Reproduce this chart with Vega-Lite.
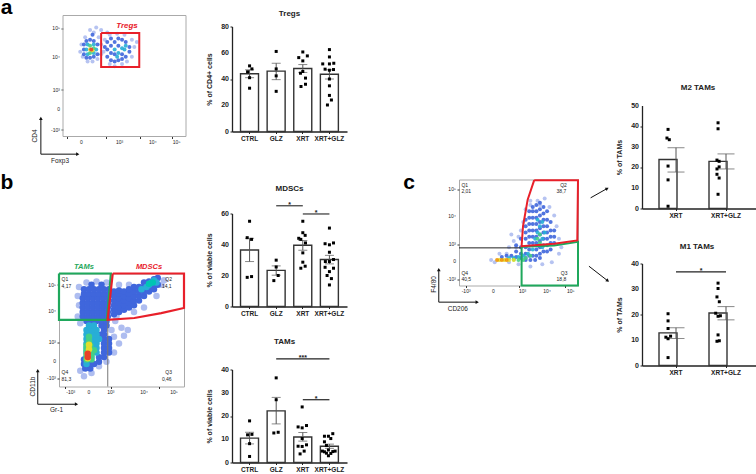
{
"$schema":"https://vega.github.io/schema/vega-lite/v6.json",
"padding":{"left":0,"top":-3.5,"right":0,"bottom":0},
"background":"white",
"config":{"font":"Liberation Sans","view":{"stroke":null},"axis":{"grid":false,"labelColor":"#222","titleColor":"#222","labelBound":false,"labelFlush":false},"title":{"color":"#222"}},
"spacing":0,
"hconcat":[
{"bounds":"flush","spacing":0,"vconcat":[
  {"width":10,"height":16,"data":{"values":[{}]},"mark":{"type":"text","text":""},"encoding":{}},
  {"width":127,"height":121,"layer":[
   {"data":{"values":[{"x":14,"y":70,"d":0},{"x":15,"y":76,"d":0},{"x":16,"y":66,"d":0},{"x":18,"y":82,"d":0},{"x":20,"y":62,"d":0},{"x":24,"y":62,"d":0},{"x":28,"y":64,"d":0},{"x":31,"y":68,"d":0},{"x":31,"y":76,"d":0},{"x":29,"y":82,"d":0},{"x":25,"y":86,"d":0},{"x":22,"y":88,"d":0},{"x":27,"y":90,"d":0},{"x":31,"y":88,"d":0},{"x":36,"y":86,"d":0},{"x":34,"y":80,"d":0},{"x":33,"y":70,"d":0},{"x":38,"y":60,"d":0},{"x":42,"y":58,"d":0},{"x":48,"y":60,"d":0},{"x":52,"y":62,"d":0},{"x":56,"y":66,"d":0},{"x":58,"y":74,"d":0},{"x":56,"y":80,"d":0},{"x":50,"y":84,"d":0},{"x":44,"y":85,"d":0},{"x":38,"y":84,"d":0},{"x":60,"y":78,"d":0},
   {"x":17,"y":68,"d":1},{"x":17,"y":72,"d":1},{"x":17,"y":76,"d":1},{"x":19,"y":65,"d":1},{"x":19,"y":79,"d":1},{"x":22,"y":65,"d":1},{"x":22,"y":80,"d":1},{"x":25,"y":66,"d":1},{"x":25,"y":79,"d":1},{"x":28,"y":68,"d":1},{"x":28,"y":76,"d":1},{"x":24,"y":84,"d":1},{"x":36,"y":66,"d":1},{"x":36,"y":72,"d":1},{"x":36,"y":78,"d":1},{"x":39,"y":63,"d":1},{"x":39,"y":69,"d":1},{"x":39,"y":75,"d":1},{"x":39,"y":81,"d":1},{"x":42,"y":62,"d":1},{"x":42,"y":68,"d":1},{"x":42,"y":78,"d":1},{"x":45,"y":63,"d":1},{"x":45,"y":75,"d":1},{"x":45,"y":81,"d":1},{"x":48,"y":64,"d":1},{"x":48,"y":68,"d":1},{"x":51,"y":66,"d":1},{"x":51,"y":78,"d":1},{"x":54,"y":70,"d":1},{"x":54,"y":74,"d":1},{"x":48,"y":80,"d":1},{"x":34,"y":74,"d":1},
   {"x":19,"y":72,"d":2},{"x":20,"y":68,"d":2},{"x":20,"y":76,"d":2},{"x":27,"y":72,"d":2},{"x":25,"y":69,"d":2},{"x":25,"y":76,"d":2},{"x":42,"y":72,"d":2},{"x":45,"y":69,"d":2},{"x":48,"y":73,"d":2},{"x":50,"y":72,"d":2},{"x":51,"y":75,"d":2},{"x":44,"y":66,"d":2},
   {"x":22,"y":69,"d":3},{"x":22,"y":75,"d":3},{"x":25,"y":73,"d":3},{"x":22,"y":72,"d":4},{"x":24,"y":71,"d":4},{"x":23,"y":72,"d":5}]},
    "mark":{"type":"circle","size":16,"opacity":0.9},
    "encoding":{"x":{"field":"x","type":"quantitative","scale":{"domain":[0,100],"nice":false,"range":[4,127]},"axis":{"labels":false,"title":null,"domain":false,"values":[3,6,9,15,18,21,24,30,35,40,43,46,48,52,55,59,63,66,69,73,77,80,83,86,89,92.4,96],"tickSize":2,"tickColor":"#333"}},
    "y":{"field":"y","type":"quantitative","scale":{"domain":[0,100],"nice":false},"axis":{"labels":false,"title":null,"domain":false,"offset":-4,"values":[5.5,22.4,38.7,65.7,89.5],"tickSize":2,"tickColor":"#333"}},
    "color":{"field":"d","type":"quantitative","legend":null,"scale":{"domain":[0,1,2,3,4,5],"range":["#aebdf0","#3f66dc","#28aed6","#45cf86","#e3dd2c","#e8402a"]}}}},
   {"data":{"values":[{"pos":5.5,"label":"-10³"},{"pos":22.4,"label":"0"},{"pos":38.7,"label":"10³"},{"pos":65.7,"label":"10⁴"},{"pos":89.5,"label":"10⁵"}]},"mark":{"type":"text","fontSize":5,"align":"right","dx":-3,"color":"#222"},"encoding":{"x":{"value":4},"y":{"field":"pos","type":"quantitative"},"text":{"field":"label"}}},
   {"data":{"values":[{"pos":15,"label":"0"},{"pos":46,"label":"10³"},{"pos":73,"label":"10⁴"},{"pos":92.4,"label":"10⁵"}]},"mark":{"type":"text","fontSize":5,"baseline":"top","dy":3,"color":"#222"},"encoding":{"x":{"field":"pos","type":"quantitative"},"y":{"value":121},"text":{"field":"label"}}},
   {"data":{"values":[{"x":0,"y":0,"i":1},{"x":100,"y":0,"i":2},{"x":100,"y":100,"i":3},{"x":0,"y":100,"i":4},{"x":0,"y":0,"i":5}]},"mark":{"type":"line","color":"#aaa","strokeWidth":1},"encoding":{"x":{"field":"x","type":"quantitative"},"y":{"field":"y","type":"quantitative"},"order":{"field":"i"}}},
   {"data":{"values":[{"x":31,"y":85.6,"i":1},{"x":62,"y":85.6,"i":2},{"x":62,"y":57.5,"i":3},{"x":31,"y":57.5,"i":4},{"x":31,"y":85.6,"i":5}]},"mark":{"type":"line","color":"#e8202a","strokeWidth":2},"encoding":{"x":{"field":"x","type":"quantitative"},"y":{"field":"y","type":"quantitative"},"order":{"field":"i"}}},
   {"data":{"values":[{"x":-18,"y":15,"i":1},{"x":-18,"y":-14.6,"i":2},{"x":12,"y":-14.6,"i":3}]},"mark":{"type":"line","color":"#111","strokeWidth":1},"encoding":{"x":{"field":"x","type":"quantitative"},"y":{"field":"y","type":"quantitative"},"order":{"field":"i"}}},
   {"data":{"values":[{"x":-18,"y":15,"heading":0},{"x":12,"y":-14.6,"heading":90}]},"mark":{"type":"point","shape":"triangle-up","filled":true,"size":14,"color":"#111","opacity":1},"encoding":{"x":{"field":"x","type":"quantitative"},"y":{"field":"y","type":"quantitative"},"angle":{"field":"heading","type":"quantitative","scale":{"domain":[0,360],"range":[0,360]},"legend":null}}},
   {"data":{"values":[{"x":-45.8,"y":106.4,"t":"a"}]},"mark":{"type":"text","fontSize":21,"fontWeight":"bold","color":"#000"},"encoding":{"x":{"field":"x","type":"quantitative"},"y":{"field":"y","type":"quantitative"},"text":{"field":"t"}}},
   {"data":{"values":[{"x":52,"y":91,"t":"Tregs"}]},"mark":{"type":"text","fontSize":8,"fontWeight":"bold","fontStyle":"italic","color":"#e8202a"},"encoding":{"x":{"field":"x","type":"quantitative"},"y":{"field":"y","type":"quantitative"},"text":{"field":"t"}}},
   {"data":{"values":[{"x":-2.4,"y":-20,"t":"Foxp3"}]},"mark":{"type":"text","fontSize":6.5,"color":"#222"},"encoding":{"x":{"field":"x","type":"quantitative"},"y":{"field":"y","type":"quantitative"},"text":{"field":"t"}}},
   {"data":{"values":[{"x":-23,"y":0.5,"t":"CD4"}]},"mark":{"type":"text","fontSize":6.5,"angle":270,"color":"#222"},"encoding":{"x":{"field":"x","type":"quantitative"},"y":{"field":"y","type":"quantitative"},"text":{"field":"t"}}}
  ]},
 {"width":10,"height":137,"data":{"values":[{}]},"mark":{"type":"text","text":""},"encoding":{}},
 {"width":125,"height":113,"view":{"stroke":"#aaa"},"layer":[
   {"data":{"values":[{"x":17,"y":14,"d":0},{"x":20,"y":9,"d":0},{"x":26,"y":12,"d":0},{"x":32,"y":18,"d":0},{"x":38,"y":22,"d":0},{"x":44,"y":30,"d":0},{"x":48,"y":38,"d":0},{"x":52,"y":45,"d":0},{"x":55,"y":50,"d":0},{"x":44,"y":44,"d":0},{"x":50,"y":52,"d":0},{"x":17,"y":56,"d":0},{"x":15,"y":62,"d":0},{"x":16,"y":72,"d":0},{"x":15,"y":80,"d":0},{"x":16,"y":88,"d":0},{"x":45,"y":58,"d":0},{"x":42,"y":50,"d":0},{"x":46,"y":62,"d":0},{"x":84,"y":94,"d":0},{"x":82,"y":90,"d":0},{"x":60,"y":66,"d":0},{"x":68,"y":70,"d":0},{"x":78,"y":80,"d":0},{"x":22,"y":92,"d":0},{"x":30,"y":93,"d":0},{"x":38,"y":92,"d":0},{"x":48,"y":90,"d":0},{"x":56,"y":90,"d":0},
   {"x":21,"y":16,"d":1},{"x":25,"y":16,"d":1},{"x":20,"y":20,"d":1},{"x":24,"y":20,"d":1},{"x":28,"y":20,"d":1},{"x":32,"y":22,"d":1},{"x":20,"y":24,"d":1},{"x":36,"y":26,"d":1},{"x":32,"y":26,"d":1},{"x":36,"y":30,"d":1},{"x":40,"y":30,"d":1},{"x":36,"y":34,"d":1},{"x":40,"y":34,"d":1},{"x":36,"y":38,"d":1},{"x":40,"y":38,"d":1},{"x":36,"y":42,"d":1},{"x":40,"y":42,"d":1},{"x":36,"y":46,"d":1},{"x":34,"y":46,"d":1},{"x":36,"y":50,"d":1},{"x":34,"y":54,"d":1},{"x":38,"y":54,"d":1},{"x":22,"y":58,"d":1},{"x":26,"y":58,"d":1},{"x":30,"y":58,"d":1},{"x":34,"y":58,"d":1},{"x":38,"y":58,"d":1},
   {"x":19,"y":62,"d":1},{"x":23,"y":62,"d":1},{"x":27,"y":62,"d":1},{"x":31,"y":62,"d":1},{"x":35,"y":62,"d":1},{"x":39,"y":62,"d":1},{"x":19,"y":66,"d":1},{"x":23,"y":66,"d":1},{"x":27,"y":66,"d":1},{"x":31,"y":66,"d":1},{"x":35,"y":66,"d":1},{"x":39,"y":66,"d":1},{"x":19,"y":70,"d":1},{"x":23,"y":70,"d":1},{"x":27,"y":70,"d":1},{"x":31,"y":70,"d":1},{"x":35,"y":70,"d":1},{"x":39,"y":70,"d":1},{"x":19,"y":74,"d":1},{"x":23,"y":74,"d":1},{"x":27,"y":74,"d":1},{"x":31,"y":74,"d":1},{"x":35,"y":74,"d":1},{"x":39,"y":74,"d":1},{"x":19,"y":78,"d":1},{"x":23,"y":78,"d":1},{"x":27,"y":78,"d":1},{"x":31,"y":78,"d":1},{"x":35,"y":78,"d":1},{"x":39,"y":78,"d":1},{"x":20,"y":82,"d":1},{"x":24,"y":82,"d":1},{"x":28,"y":82,"d":1},{"x":32,"y":82,"d":1},{"x":36,"y":82,"d":1},{"x":40,"y":82,"d":1},{"x":20,"y":86,"d":1},{"x":24,"y":86,"d":1},{"x":28,"y":86,"d":1},{"x":32,"y":86,"d":1},{"x":36,"y":86,"d":1},{"x":40,"y":86,"d":1},{"x":26,"y":90,"d":1},{"x":34,"y":90,"d":1},
   {"x":44,"y":64,"d":1},{"x":44,"y":68,"d":1},{"x":44,"y":72,"d":1},{"x":44,"y":76,"d":1},{"x":44,"y":80,"d":1},{"x":44,"y":84,"d":1},{"x":48,"y":66,"d":1},{"x":48,"y":70,"d":1},{"x":48,"y":74,"d":1},{"x":48,"y":78,"d":1},{"x":48,"y":82,"d":1},{"x":48,"y":85,"d":1},{"x":52,"y":68,"d":1},{"x":52,"y":72,"d":1},{"x":52,"y":76,"d":1},{"x":52,"y":80,"d":1},{"x":52,"y":84,"d":1},{"x":56,"y":70,"d":1},{"x":56,"y":74,"d":1},{"x":56,"y":78,"d":1},{"x":56,"y":82,"d":1},{"x":56,"y":86,"d":1},{"x":60,"y":72,"d":1},{"x":60,"y":76,"d":1},{"x":60,"y":80,"d":1},{"x":60,"y":84,"d":1},{"x":60,"y":88,"d":1},{"x":64,"y":76,"d":1},{"x":64,"y":80,"d":1},{"x":64,"y":84,"d":1},{"x":64,"y":88,"d":1},{"x":68,"y":80,"d":1},{"x":68,"y":84,"d":1},{"x":68,"y":88,"d":1},{"x":68,"y":92,"d":1},{"x":72,"y":84,"d":1},{"x":72,"y":88,"d":1},{"x":72,"y":93,"d":1},{"x":76,"y":86,"d":1},{"x":76,"y":90,"d":1},{"x":76,"y":95,"d":1},{"x":79,"y":90,"d":1},{"x":79,"y":96,"d":1},
   {"x":22,"y":26,"d":2},{"x":26,"y":26,"d":2},{"x":30,"y":30,"d":2},{"x":22,"y":30,"d":2},{"x":26,"y":30,"d":2},{"x":30,"y":34,"d":2},{"x":22,"y":34,"d":2},{"x":26,"y":34,"d":2},{"x":30,"y":38,"d":2},{"x":32,"y":42,"d":2},{"x":22,"y":38,"d":2},{"x":26,"y":38,"d":2},{"x":22,"y":42,"d":2},{"x":26,"y":42,"d":2},{"x":30,"y":42,"d":2},{"x":22,"y":46,"d":2},{"x":26,"y":46,"d":2},{"x":30,"y":46,"d":2},{"x":22,"y":50,"d":2},{"x":26,"y":50,"d":2},{"x":30,"y":50,"d":2},{"x":24,"y":54,"d":2},{"x":28,"y":54,"d":2},{"x":22,"y":20,"d":2},{"x":66,"y":86,"d":2},{"x":70,"y":88,"d":2},{"x":72,"y":90,"d":2},{"x":74,"y":92,"d":2},{"x":78,"y":92,"d":2},{"x":76,"y":94,"d":2},
   {"x":72,"y":91,"d":2.6},{"x":75,"y":92,"d":2.6},{"x":22,"y":24,"d":3},{"x":26,"y":24,"d":3},{"x":22,"y":28,"d":3},{"x":26,"y":28,"d":3},{"x":28,"y":32,"d":3},{"x":22,"y":32,"d":3},{"x":25,"y":32,"d":3},{"x":22,"y":36,"d":3},{"x":25,"y":36,"d":3},{"x":24,"y":40,"d":3},{"x":24,"y":44,"d":3},
   {"x":23,"y":25,"d":4},{"x":23,"y":29,"d":4},{"x":24,"y":33,"d":4},{"x":24,"y":37,"d":4},{"x":23,"y":26,"d":5},{"x":23,"y":29,"d":5}]},
    "mark":{"type":"circle","size":42,"opacity":1},
    "encoding":{"x":{"field":"x","type":"quantitative","scale":{"domain":[0,100],"nice":false},"axis":{"labels":false,"title":null,"domain":false,"values":[5,9.4,14,20,24,28,32,36,41.5,48,53,58,62,65,68,74,80,84,88,92,96],"tickSize":2,"tickColor":"#333"}},
    "y":{"field":"y","type":"quantitative","scale":{"domain":[0,100],"nice":false},"axis":{"labels":false,"title":null,"domain":false,"values":[7.4,23,39,66.6,90],"tickSize":2,"tickColor":"#333"}},
    "color":{"field":"d","type":"quantitative","legend":null,"scale":{"domain":[0,1,2,3,4,5],"range":["#b7c6f2","#3a62dc","#28aed6","#45cf86","#e3dd2c","#e8301f"]}}}},
   {"data":{"values":[{"pos":7.4,"label":"-10³"},{"pos":23,"label":"0"},{"pos":39,"label":"10³"},{"pos":66.6,"label":"10⁴"},{"pos":90,"label":"10⁵"}]},"mark":{"type":"text","fontSize":5,"align":"right","dx":-3,"color":"#222"},"encoding":{"x":{"value":0},"y":{"field":"pos","type":"quantitative"},"text":{"field":"label"}}},
   {"data":{"values":[{"pos":9.4,"label":"-10³"},{"pos":24,"label":"0"},{"pos":41.5,"label":"10³"},{"pos":68,"label":"10⁴"},{"pos":92,"label":"10⁵"}]},"mark":{"type":"text","fontSize":5,"baseline":"top","dy":3,"color":"#222"},"encoding":{"x":{"field":"pos","type":"quantitative"},"y":{"value":113},"text":{"field":"label"}}},
   {"data":{"values":[{"x":39,"y":59,"i":1},{"x":39,"y":0,"i":2}]},"mark":{"type":"line","color":"#777","strokeWidth":1},"encoding":{"x":{"field":"x","type":"quantitative"},"y":{"field":"y","type":"quantitative"},"order":{"field":"i"}}},
   {"data":{"values":[{"x":0,"y":100,"i":1},{"x":41.5,"y":100,"i":2},{"x":38.3,"y":59,"i":3},{"x":0,"y":59,"i":4},{"x":0,"y":100,"i":5}]},"mark":{"type":"line","color":"#1fa85c","strokeWidth":2.2},"encoding":{"x":{"field":"x","type":"quantitative"},"y":{"field":"y","type":"quantitative"},"order":{"field":"i"}}},
   {"data":{"values":[{"x":43,"y":100,"i":1},{"x":100,"y":100,"i":2},{"x":100,"y":69.5,"i":3},{"x":81.8,"y":65,"i":4},{"x":60.3,"y":60.6,"i":5},{"x":38.9,"y":59,"i":6},{"x":43,"y":100,"i":7}]},"mark":{"type":"line","color":"#e8202a","strokeWidth":2.2},"encoding":{"x":{"field":"x","type":"quantitative"},"y":{"field":"y","type":"quantitative"},"order":{"field":"i"}}},
   {"data":{"values":[{"x":-17,"y":14,"i":1},{"x":-17,"y":-15.7,"i":2},{"x":14,"y":-15.7,"i":3}]},"mark":{"type":"line","color":"#111","strokeWidth":1},"encoding":{"x":{"field":"x","type":"quantitative"},"y":{"field":"y","type":"quantitative"},"order":{"field":"i"}}},
   {"data":{"values":[{"x":-17,"y":14,"heading":0},{"x":14,"y":-15.7,"heading":90}]},"mark":{"type":"point","shape":"triangle-up","filled":true,"size":14,"color":"#111","opacity":1},"encoding":{"x":{"field":"x","type":"quantitative"},"y":{"field":"y","type":"quantitative"},"angle":{"field":"heading","type":"quantitative","scale":{"domain":[0,360],"range":[0,360]},"legend":null}}},
   {"data":{"values":[{"x":-41.6,"y":180.5,"t":"b"}]},"mark":{"type":"text","fontSize":21,"fontWeight":"bold","color":"#000"},"encoding":{"x":{"field":"x","type":"quantitative"},"y":{"field":"y","type":"quantitative"},"text":{"field":"t"}}},
   {"data":{"values":[{"x":20,"y":105.6,"t":"TAMs"}]},"mark":{"type":"text","fontSize":7.5,"fontWeight":"bold","fontStyle":"italic","color":"#1fa85c"},"encoding":{"x":{"field":"x","type":"quantitative"},"y":{"field":"y","type":"quantitative"},"text":{"field":"t"}}},
   {"data":{"values":[{"x":72,"y":105.6,"t":"MDSCs"}]},"mark":{"type":"text","fontSize":7.5,"fontWeight":"bold","fontStyle":"italic","color":"#e8202a"},"encoding":{"x":{"field":"x","type":"quantitative"},"y":{"field":"y","type":"quantitative"},"text":{"field":"t"}}},
   {"data":{"values":[{"x":2,"y":94.7,"t":"Q1"},{"x":2,"y":88.8,"t":"4,17"},{"x":85,"y":94.7,"t":"Q2"},{"x":82.3,"y":88.8,"t":"14,1"},{"x":2,"y":12.4,"t":"Q4"},{"x":2,"y":6.5,"t":"81,3"},{"x":85,"y":12.4,"t":"Q3"},{"x":82.3,"y":6.5,"t":"0,46"}]},"mark":{"type":"text","fontSize":5,"align":"left","color":"#222"},"encoding":{"x":{"field":"x","type":"quantitative"},"y":{"field":"y","type":"quantitative"},"text":{"field":"t"}}},
   {"data":{"values":[{"x":-2,"y":-20.7,"t":"Gr-1"}]},"mark":{"type":"text","fontSize":6.5,"color":"#222"},"encoding":{"x":{"field":"x","type":"quantitative"},"y":{"field":"y","type":"quantitative"},"text":{"field":"t"}}},
   {"data":{"values":[{"x":-21,"y":0,"t":"CD11b"}]},"mark":{"type":"text","fontSize":6.5,"angle":270,"color":"#222"},"encoding":{"x":{"field":"x","type":"quantitative"},"y":{"field":"y","type":"quantitative"},"text":{"field":"t"}}}
 ]}
]},
{"width":16,"height":10,"data":{"values":[{}]},"mark":{"type":"text","text":""},"encoding":{}},
{"bounds":"flush","spacing":0,"vconcat":[
 {"width":10,"height":27,"data":{"values":[{}]},"mark":{"type":"text","text":""},"encoding":{}},
 {"width":115,"height":105,"title":{"text":"Tregs","fontSize":8,"fontWeight":"bold","offset":5},
  "encoding":{"x":{"field":"group","type":"nominal","scale":{"domain":["CTRL","GLZ","XRT","XRT+GLZ"],"paddingInner":0.32,"paddingOuter":0.32},"axis":{"labelOverlap":false,"title":null,"labelAngle":0,"labelFontSize":6.5,"labelFontWeight":"bold","domainWidth":1.3,"domainColor":"#222","tickColor":"#222","tickSize":2,"labelPadding":2}}},
  "layer":[
   {"data":{"values":[{"group":"CTRL","mean":44,"lo":41,"hi":47},{"group":"GLZ","mean":46,"lo":39.5,"hi":52},{"group":"XRT","mean":48,"lo":45,"hi":51},{"group":"XRT+GLZ","mean":43.6,"lo":40,"hi":47}]},"layer":[
    {"mark":{"type":"bar","fill":"white","stroke":"#333","strokeWidth":1.4,"width":{"band":1}},"encoding":{"y":{"field":"mean","type":"quantitative","scale":{"domain":[0,80]},"axis":{"labels":false,"values":[0,20,40,60,80],"title":"% of CD4+ cells","titleFontSize":7,"titleFontWeight":"bold","domainWidth":1.3,"domainColor":"#222","tickColor":"#222","tickSize":2,"titlePadding":17}}}},
    {"mark":{"type":"rule","color":"#555"},"encoding":{"y":{"field":"lo","type":"quantitative"},"y2":{"field":"hi"}}},
    {"mark":{"type":"tick","color":"#555","size":9,"thickness":1},"encoding":{"y":{"field":"lo","type":"quantitative"}}},
    {"mark":{"type":"tick","color":"#555","size":9,"thickness":1},"encoding":{"y":{"field":"hi","type":"quantitative"}}}
   ]},
   {"data":{"values":[{"pos":0},{"pos":20},{"pos":40},{"pos":60},{"pos":80}]},"mark":{"type":"text","fontSize":7,"fontWeight":"bold","align":"right","dx":-3,"color":"#222"},"encoding":{"x":{"value":0},"y":{"field":"pos","type":"quantitative"},"text":{"field":"pos"}}},
   {"data":{"values":[{"group":"CTRL","v":50,"j":0},{"group":"CTRL","v":47.7,"j":0.26},{"group":"CTRL","v":45.5,"j":-0.22},{"group":"CTRL","v":41,"j":0},{"group":"CTRL","v":33,"j":0},{"group":"GLZ","v":61,"j":0},{"group":"GLZ","v":47.7,"j":0},{"group":"GLZ","v":42.4,"j":0},{"group":"GLZ","v":30.6,"j":0},{"group":"XRT","v":60.6,"j":0},{"group":"XRT","v":57.6,"j":0.5},{"group":"XRT","v":56.3,"j":-0.45},{"group":"XRT","v":53.8,"j":0},{"group":"XRT","v":45.7,"j":0},{"group":"XRT","v":44.4,"j":-0.26},{"group":"XRT","v":40.7,"j":0.3},{"group":"XRT","v":36,"j":0.3},{"group":"XRT","v":34.3,"j":-0.2},{"group":"XRT+GLZ","v":62.4,"j":0},{"group":"XRT+GLZ","v":56.8,"j":0},{"group":"XRT+GLZ","v":51.5,"j":-0.74},{"group":"XRT+GLZ","v":51.5,"j":0},{"group":"XRT+GLZ","v":52,"j":0.48},{"group":"XRT+GLZ","v":47.5,"j":-0.48},{"group":"XRT+GLZ","v":46.7,"j":0},{"group":"XRT+GLZ","v":47.2,"j":0.45},{"group":"XRT+GLZ","v":40,"j":0},{"group":"XRT+GLZ","v":34.8,"j":0},{"group":"XRT+GLZ","v":27.5,"j":0},{"group":"XRT+GLZ","v":24,"j":0.22},{"group":"XRT+GLZ","v":20.2,"j":-0.22}]},
    "mark":{"type":"point","shape":"square","filled":true,"size":9,"color":"#000","opacity":1},
    "encoding":{"y":{"field":"v","type":"quantitative"},"xOffset":{"field":"j","type":"quantitative","scale":{"domain":[-1,1]}}}}
  ]},
 {"width":10,"height":82,"data":{"values":[{}]},"mark":{"type":"text","text":""},"encoding":{}},
 {"width":115,"height":93,"title":{"text":"MDSCs","fontSize":8,"fontWeight":"bold","offset":8},
  "encoding":{"x":{"field":"group","type":"nominal","scale":{"domain":["CTRL","GLZ","XRT","XRT+GLZ"],"paddingInner":0.32,"paddingOuter":0.32},"axis":{"labelOverlap":false,"title":null,"labelAngle":0,"labelFontSize":6.5,"labelFontWeight":"bold","domainWidth":1.3,"domainColor":"#222","tickColor":"#222","tickSize":2,"labelPadding":2}}},
  "layer":[
   {"data":{"values":[{"group":"CTRL","mean":36.5,"lo":29,"hi":44},{"group":"GLZ","mean":23.3,"lo":20.2,"hi":26.2},{"group":"XRT","mean":39.5,"lo":36.3,"hi":42.6},{"group":"XRT+GLZ","mean":30.3,"lo":27.5,"hi":33}]},"layer":[
    {"mark":{"type":"bar","fill":"white","stroke":"#333","strokeWidth":1.4,"width":{"band":1}},"encoding":{"y":{"field":"mean","type":"quantitative","scale":{"domain":[0,60]},"axis":{"labels":false,"values":[0,20,40,60],"title":"% of viable cells","titleFontSize":7,"titleFontWeight":"bold","domainWidth":1.3,"domainColor":"#222","tickColor":"#222","tickSize":2,"titlePadding":17}}}},
    {"mark":{"type":"rule","color":"#555"},"encoding":{"y":{"field":"lo","type":"quantitative"},"y2":{"field":"hi"}}},
    {"mark":{"type":"tick","color":"#555","size":9,"thickness":1},"encoding":{"y":{"field":"lo","type":"quantitative"}}},
    {"mark":{"type":"tick","color":"#555","size":9,"thickness":1},"encoding":{"y":{"field":"hi","type":"quantitative"}}}
   ]},
   {"data":{"values":[{"pos":0},{"pos":20},{"pos":40},{"pos":60}]},"mark":{"type":"text","fontSize":7,"fontWeight":"bold","align":"right","dx":-3,"color":"#222"},"encoding":{"x":{"value":0},"y":{"field":"pos","type":"quantitative"},"text":{"field":"pos"}}},
   {"data":{"values":[{"group":"CTRL","v":55,"j":0},{"group":"CTRL","v":44.4,"j":-0.26},{"group":"CTRL","v":43.3,"j":0.22},{"group":"CTRL","v":18.8,"j":-0.26},{"group":"CTRL","v":19.3,"j":0.22},{"group":"GLZ","v":29.9,"j":0},{"group":"GLZ","v":25.5,"j":0},{"group":"GLZ","v":20,"j":0.22},{"group":"GLZ","v":16.7,"j":-0.26},{"group":"XRT","v":55,"j":0},{"group":"XRT","v":47.6,"j":0},{"group":"XRT","v":45.9,"j":0.26},{"group":"XRT","v":44,"j":-0.45},{"group":"XRT","v":43.3,"j":-0.22},{"group":"XRT","v":41,"j":0.3},{"group":"XRT","v":34.6,"j":0},{"group":"XRT","v":28.6,"j":0},{"group":"XRT","v":26,"j":0.26},{"group":"XRT","v":24.7,"j":-0.22},{"group":"XRT+GLZ","v":50.6,"j":0},{"group":"XRT+GLZ","v":40.5,"j":-0.48},{"group":"XRT+GLZ","v":39.8,"j":0},{"group":"XRT+GLZ","v":41,"j":0.45},{"group":"XRT+GLZ","v":35,"j":0},{"group":"XRT+GLZ","v":29,"j":-0.45},{"group":"XRT+GLZ","v":29,"j":0},{"group":"XRT+GLZ","v":30.3,"j":0.45},{"group":"XRT+GLZ","v":25.3,"j":-0.48},{"group":"XRT+GLZ","v":24.7,"j":0.45},{"group":"XRT+GLZ","v":22.5,"j":0},{"group":"XRT+GLZ","v":20,"j":-0.26},{"group":"XRT+GLZ","v":18,"j":0.22},{"group":"XRT+GLZ","v":13.9,"j":0}]},
    "mark":{"type":"point","shape":"square","filled":true,"size":9,"color":"#000","opacity":1},
    "encoding":{"y":{"field":"v","type":"quantitative"},"xOffset":{"field":"j","type":"quantitative","scale":{"domain":[-1,1]}}}},
   {"data":{"values":[{"from":"GLZ","to":"XRT","at":65},{"from":"XRT","to":"XRT+GLZ","at":59.7}]},"layer":[
    {"mark":{"type":"rule","color":"#444","strokeWidth":1.3},"encoding":{"x":{"field":"from","type":"nominal"},"x2":{"field":"to"},"y":{"field":"at","type":"quantitative"}}},
    {"mark":{"type":"text","text":"*","fontSize":7,"fontWeight":"bold","dx":13.3,"dy":-1,"color":"#222"},"encoding":{"x":{"field":"from","type":"nominal"},"y":{"field":"at","type":"quantitative"}}}
   ]}
  ]},
 {"width":10,"height":63,"data":{"values":[{}]},"mark":{"type":"text","text":""},"encoding":{}},
 {"width":115,"height":93,"title":{"text":"TAMs","fontSize":8,"fontWeight":"bold","offset":8,"dx":-5},
  "encoding":{"x":{"field":"group","type":"nominal","scale":{"domain":["CTRL","GLZ","XRT","XRT+GLZ"],"paddingInner":0.32,"paddingOuter":0.32},"axis":{"labelOverlap":false,"title":null,"labelAngle":0,"labelFontSize":6.5,"labelFontWeight":"bold","domainWidth":1.3,"domainColor":"#222","tickColor":"#222","tickSize":2,"labelPadding":2}}},
  "layer":[
   {"data":{"values":[{"group":"CTRL","mean":10.5,"lo":8,"hi":13},{"group":"GLZ","mean":22.2,"lo":16.6,"hi":28},{"group":"XRT","mean":11,"lo":9.2,"hi":12.9},{"group":"XRT+GLZ","mean":7,"lo":6.1,"hi":7.9}]},"layer":[
    {"mark":{"type":"bar","fill":"white","stroke":"#333","strokeWidth":1.4,"width":{"band":1}},"encoding":{"y":{"field":"mean","type":"quantitative","scale":{"domain":[0,40]},"axis":{"labels":false,"values":[0,10,20,30,40],"title":"% of viable cells","titleFontSize":7,"titleFontWeight":"bold","domainWidth":1.3,"domainColor":"#222","tickColor":"#222","tickSize":2,"titlePadding":17}}}},
    {"mark":{"type":"rule","color":"#555"},"encoding":{"y":{"field":"lo","type":"quantitative"},"y2":{"field":"hi"}}},
    {"mark":{"type":"tick","color":"#555","size":9,"thickness":1},"encoding":{"y":{"field":"lo","type":"quantitative"}}},
    {"mark":{"type":"tick","color":"#555","size":9,"thickness":1},"encoding":{"y":{"field":"hi","type":"quantitative"}}}
   ]},
   {"data":{"values":[{"pos":0},{"pos":10},{"pos":20},{"pos":30},{"pos":40}]},"mark":{"type":"text","fontSize":7,"fontWeight":"bold","align":"right","dx":-3,"color":"#222"},"encoding":{"x":{"value":0},"y":{"field":"pos","type":"quantitative"},"text":{"field":"pos"}}},
   {"data":{"values":[{"group":"CTRL","v":17.9,"j":0},{"group":"CTRL","v":11.9,"j":-0.22},{"group":"CTRL","v":12.1,"j":0.26},{"group":"CTRL","v":8.1,"j":0},{"group":"CTRL","v":2.6,"j":0},{"group":"GLZ","v":36.4,"j":0},{"group":"GLZ","v":27,"j":0},{"group":"GLZ","v":12.7,"j":-0.26},{"group":"GLZ","v":13,"j":0.22},{"group":"XRT","v":23.9,"j":-0.07},{"group":"XRT","v":15.3,"j":-0.52},{"group":"XRT","v":14.9,"j":-0.07},{"group":"XRT","v":15.9,"j":0.41},{"group":"XRT","v":10.3,"j":-0.07},{"group":"XRT","v":7,"j":-0.52},{"group":"XRT","v":6.9,"j":-0.07},{"group":"XRT","v":7.6,"j":0.41},{"group":"XRT","v":4.9,"j":0.15},{"group":"XRT","v":3.7,"j":-0.3},{"group":"XRT+GLZ","v":11.3,"j":-0.55},{"group":"XRT+GLZ","v":11.3,"j":-0.11},{"group":"XRT+GLZ","v":12.4,"j":0.37},{"group":"XRT+GLZ","v":10.3,"j":0.15},{"group":"XRT+GLZ","v":8.9,"j":-0.55},{"group":"XRT+GLZ","v":7.3,"j":-0.33},{"group":"XRT+GLZ","v":4.9,"j":-0.78},{"group":"XRT+GLZ","v":4.6,"j":-0.55},{"group":"XRT+GLZ","v":5.4,"j":-0.11},{"group":"XRT+GLZ","v":4.7,"j":0.37},{"group":"XRT+GLZ","v":4.9,"j":0.63},{"group":"XRT+GLZ","v":4,"j":-0.33},{"group":"XRT+GLZ","v":3.9,"j":0.15},{"group":"XRT+GLZ","v":2.9,"j":-0.11}]},
    "mark":{"type":"point","shape":"square","filled":true,"size":9,"color":"#000","opacity":1},
    "encoding":{"y":{"field":"v","type":"quantitative"},"xOffset":{"field":"j","type":"quantitative","scale":{"domain":[-1,1]}}}},
   {"data":{"values":[{"from":"GLZ","to":"XRT+GLZ","at":44.6}]},"layer":[
    {"mark":{"type":"rule","color":"#222","strokeWidth":1.2},"encoding":{"x":{"field":"from","type":"nominal"},"x2":{"field":"to"},"y":{"field":"at","type":"quantitative"}}},
    {"mark":{"type":"text","text":"***","fontSize":7,"fontWeight":"bold","dx":26.6,"dy":-1,"color":"#222"},"encoding":{"x":{"field":"from","type":"nominal"},"y":{"field":"at","type":"quantitative"}}}
   ]},
   {"data":{"values":[{"from":"XRT","to":"XRT+GLZ","at":27}]},"layer":[
    {"mark":{"type":"rule","color":"#222","strokeWidth":1.2},"encoding":{"x":{"field":"from","type":"nominal"},"x2":{"field":"to"},"y":{"field":"at","type":"quantitative"}}},
    {"mark":{"type":"text","text":"*","fontSize":7,"fontWeight":"bold","dx":13.3,"dy":-1,"color":"#222"},"encoding":{"x":{"field":"from","type":"nominal"},"y":{"field":"at","type":"quantitative"}}}
   ]}
  ]}
]},
{"width":55,"height":10,"data":{"values":[{}]},"mark":{"type":"text","text":""},"encoding":{}},
{"bounds":"flush","spacing":0,"vconcat":[
 {"width":10,"height":180,"data":{"values":[{}]},"mark":{"type":"text","text":""},"encoding":{}},
 {"width":119,"height":106,"view":{"stroke":"#aaa"},"layer":[
   {"data":{"values":[{"x":44,"y":48,"d":0},{"x":46,"y":42,"d":0},{"x":48,"y":36,"d":0},{"x":50,"y":46,"d":0},{"x":52,"y":52,"d":0},{"x":42,"y":36,"d":0},{"x":54,"y":60,"d":0},{"x":56,"y":72,"d":0},{"x":60,"y":76,"d":0},{"x":66,"y":80,"d":0},{"x":72,"y":82,"d":0},{"x":76,"y":74,"d":0},{"x":80,"y":66,"d":0},{"x":82,"y":56,"d":0},{"x":84,"y":44,"d":0},{"x":86,"y":36,"d":0},{"x":84,"y":30,"d":0},{"x":78,"y":22,"d":0},{"x":70,"y":20,"d":0},{"x":60,"y":18,"d":0},{"x":50,"y":20,"d":0},{"x":42,"y":22,"d":0},{"x":34,"y":30,"d":0},{"x":40,"y":30,"d":0},{"x":30,"y":22,"d":0},{"x":27,"y":24,"d":0},{"x":60,"y":80,"d":0},{"x":68,"y":76,"d":0},
   {"x":48,"y":32,"d":1},{"x":48,"y":38,"d":1},{"x":52,"y":30,"d":1},{"x":52,"y":36,"d":1},{"x":52,"y":44,"d":1},{"x":56,"y":24,"d":1},{"x":56,"y":30,"d":1},{"x":56,"y":36,"d":1},{"x":56,"y":44,"d":1},{"x":56,"y":50,"d":1},{"x":56,"y":56,"d":1},{"x":56,"y":62,"d":1},{"x":59,"y":28,"d":1},{"x":59,"y":34,"d":1},{"x":59,"y":40,"d":1},{"x":59,"y":46,"d":1},{"x":59,"y":52,"d":1},{"x":59,"y":58,"d":1},{"x":59,"y":64,"d":1},{"x":59,"y":70,"d":1},{"x":62,"y":28,"d":1},{"x":62,"y":40,"d":1},{"x":62,"y":46,"d":1},{"x":62,"y":52,"d":1},{"x":62,"y":58,"d":1},{"x":62,"y":64,"d":1},{"x":62,"y":70,"d":1},{"x":62,"y":74,"d":1},{"x":65,"y":28,"d":1},{"x":65,"y":34,"d":1},{"x":65,"y":40,"d":1},{"x":65,"y":46,"d":1},{"x":65,"y":52,"d":1},{"x":65,"y":58,"d":1},{"x":65,"y":64,"d":1},{"x":65,"y":70,"d":1},{"x":65,"y":76,"d":1},{"x":68,"y":30,"d":1},{"x":68,"y":36,"d":1},{"x":68,"y":42,"d":1},{"x":68,"y":48,"d":1},{"x":68,"y":54,"d":1},{"x":68,"y":60,"d":1},{"x":68,"y":66,"d":1},{"x":68,"y":72,"d":1},{"x":68,"y":78,"d":1},{"x":71,"y":32,"d":1},{"x":71,"y":38,"d":1},{"x":71,"y":44,"d":1},{"x":71,"y":50,"d":1},{"x":71,"y":56,"d":1},{"x":71,"y":62,"d":1},{"x":71,"y":68,"d":1},{"x":71,"y":74,"d":1},{"x":74,"y":32,"d":1},{"x":74,"y":38,"d":1},{"x":74,"y":44,"d":1},{"x":74,"y":50,"d":1},{"x":74,"y":56,"d":1},{"x":74,"y":62,"d":1},{"x":74,"y":70,"d":1},{"x":77,"y":34,"d":1},{"x":77,"y":40,"d":1},{"x":77,"y":46,"d":1},{"x":77,"y":52,"d":1},{"x":77,"y":60,"d":1},{"x":80,"y":40,"d":1},{"x":80,"y":46,"d":1},{"x":80,"y":52,"d":1},{"x":36,"y":27,"d":1},{"x":40,"y":28,"d":1},{"x":44,"y":28,"d":1},{"x":48,"y":27,"d":1},{"x":52,"y":26,"d":1},{"x":56,"y":26,"d":1},{"x":60,"y":24,"d":1},{"x":64,"y":24,"d":1},{"x":68,"y":26,"d":1},
   {"x":64,"y":44,"d":2},{"x":66,"y":50,"d":2},{"x":68,"y":56,"d":2},{"x":70,"y":60,"d":2},{"x":66,"y":38,"d":2},{"x":70,"y":44,"d":2},{"x":72,"y":50,"d":2},{"x":62,"y":34,"d":2},{"x":58,"y":30,"d":2},{"x":54,"y":28,"d":2},{"x":50,"y":27,"d":2},{"x":46,"y":26,"d":2},{"x":42,"y":26,"d":2},{"x":66,"y":62,"d":2},{"x":70,"y":36,"d":2},
   {"x":66,"y":44,"d":3},{"x":68,"y":48,"d":3},{"x":68,"y":40,"d":3},{"x":56,"y":26,"d":3},{"x":60,"y":28,"d":3},{"x":50,"y":24,"d":3},{"x":54,"y":24,"d":3},{"x":46,"y":24.5,"d":3},
   {"x":34,"y":24,"d":4},{"x":38,"y":24,"d":4},{"x":42,"y":24,"d":4},{"x":46,"y":24,"d":4},{"x":36,"y":24,"d":4.5},{"x":40,"y":24,"d":4.5},{"x":32,"y":24,"d":4.5}]},
    "mark":{"type":"circle","size":16,"opacity":0.9},
    "encoding":{"x":{"field":"x","type":"quantitative","scale":{"domain":[0,100],"nice":false},"axis":{"labels":false,"title":null,"domain":false,"values":[6,20,25,29,33,38,42,46,50,53.5,60,65,69,74,80,85,89,94],"tickSize":2,"tickColor":"#333"}},
    "y":{"field":"y","type":"quantitative","scale":{"domain":[0,100],"nice":false},"axis":{"labels":false,"title":null,"domain":false,"values":[5.7,23,39,66,90.6],"tickSize":2,"tickColor":"#333"}},
    "color":{"field":"d","type":"quantitative","legend":null,"scale":{"domain":[0,1,2,3,4,5],"range":["#aebdf0","#3f66dc","#28aed6","#45cf86","#e3dd2c","#e8402a"]}}}},
   {"data":{"values":[{"pos":5.7,"label":"-10³"},{"pos":23,"label":"0"},{"pos":39,"label":"10³"},{"pos":66,"label":"10⁴"},{"pos":90.6,"label":"10⁵"}]},"mark":{"type":"text","fontSize":5,"align":"right","dx":-3,"color":"#222"},"encoding":{"x":{"value":0},"y":{"field":"pos","type":"quantitative"},"text":{"field":"label"}}},
   {"data":{"values":[{"pos":6,"label":"-10³"},{"pos":29,"label":"0"},{"pos":53.5,"label":"10³"},{"pos":74,"label":"10⁴"},{"pos":94,"label":"10⁵"}]},"mark":{"type":"text","fontSize":5,"baseline":"top","dy":3,"color":"#222"},"encoding":{"x":{"field":"pos","type":"quantitative"},"y":{"value":106},"text":{"field":"label"}}},
   {"data":{"values":[{"x":0,"y":35.5,"i":1},{"x":52.6,"y":35.5,"i":2}]},"mark":{"type":"line","color":"#222","strokeWidth":1},"encoding":{"x":{"field":"x","type":"quantitative"},"y":{"field":"y","type":"quantitative"},"order":{"field":"i"}}},
   {"data":{"values":[{"x":52.6,"y":36.5,"i":1},{"x":80,"y":37.7,"i":2},{"x":100,"y":41.2,"i":3},{"x":100,"y":0,"i":4},{"x":52.6,"y":0,"i":5},{"x":52.6,"y":36.5,"i":6}]},"mark":{"type":"line","color":"#1fa85c","strokeWidth":2},"encoding":{"x":{"field":"x","type":"quantitative"},"y":{"field":"y","type":"quantitative"},"order":{"field":"i"}}},
   {"data":{"values":[{"x":63.2,"y":99.4,"i":1},{"x":100,"y":99.4,"i":2},{"x":99.4,"y":42.5,"i":3},{"x":80,"y":39.3,"i":4},{"x":52.6,"y":37,"i":5},{"x":53.8,"y":56,"i":6},{"x":57.7,"y":81,"i":7},{"x":63.2,"y":99.4,"i":8}]},"mark":{"type":"line","color":"#e8202a","strokeWidth":2},"encoding":{"x":{"field":"x","type":"quantitative"},"y":{"field":"y","type":"quantitative"},"order":{"field":"i"}}},
   {"data":{"values":[{"x":-17,"y":15,"i":1,"k":"axes"},{"x":-17,"y":-15.7,"i":2,"k":"axes"},{"x":15.3,"y":-15.7,"i":3,"k":"axes"},{"x":110.6,"y":82.7,"i":1,"k":"up"},{"x":124.5,"y":91.5,"i":2,"k":"up"},{"x":109.2,"y":18.2,"i":1,"k":"down"},{"x":125,"y":4.4,"i":2,"k":"down"}]},"mark":{"type":"line","color":"#111","strokeWidth":1},"encoding":{"x":{"field":"x","type":"quantitative"},"y":{"field":"y","type":"quantitative"},"detail":{"field":"k"},"order":{"field":"i"}}},
   {"data":{"values":[{"x":-17,"y":15,"heading":0},{"x":15.3,"y":-15.7,"heading":90},{"x":124.5,"y":91.5,"heading":60},{"x":125,"y":4.4,"heading":128}]},"mark":{"type":"point","shape":"triangle-up","filled":true,"size":14,"color":"#111","opacity":1},"encoding":{"x":{"field":"x","type":"quantitative"},"y":{"field":"y","type":"quantitative"},"angle":{"field":"heading","type":"quantitative","scale":{"domain":[0,360],"range":[0,360]},"legend":null}}},
   {"data":{"values":[{"x":-42,"y":97,"t":"c"}]},"mark":{"type":"text","fontSize":21,"fontWeight":"bold","color":"#000"},"encoding":{"x":{"field":"x","type":"quantitative"},"y":{"field":"y","type":"quantitative"},"text":{"field":"t"}}},
   {"data":{"values":[{"x":2,"y":94.6,"t":"Q1"},{"x":2,"y":89,"t":"2,01"},{"x":85,"y":94.6,"t":"Q2"},{"x":82,"y":89,"t":"38,7"},{"x":2,"y":12,"t":"Q4"},{"x":2,"y":6,"t":"40,5"},{"x":85.5,"y":12,"t":"Q3"},{"x":82,"y":6,"t":"18,8"}]},"mark":{"type":"text","fontSize":5,"align":"left","color":"#222"},"encoding":{"x":{"field":"x","type":"quantitative"},"y":{"field":"y","type":"quantitative"},"text":{"field":"t"}}},
   {"data":{"values":[{"x":-1,"y":-22,"t":"CD206"}]},"mark":{"type":"text","fontSize":6.5,"color":"#222"},"encoding":{"x":{"field":"x","type":"quantitative"},"y":{"field":"y","type":"quantitative"},"text":{"field":"t"}}},
   {"data":{"values":[{"x":-21,"y":1,"t":"F4/80"}]},"mark":{"type":"text","fontSize":6.5,"angle":270,"color":"#222"},"encoding":{"x":{"field":"x","type":"quantitative"},"y":{"field":"y","type":"quantitative"},"text":{"field":"t"}}}
 ]}
]},
{"width":4,"height":10,"data":{"values":[{}]},"mark":{"type":"text","text":""},"encoding":{}},
{"bounds":"flush","spacing":0,"vconcat":[
 {"width":10,"height":106,"data":{"values":[{}]},"mark":{"type":"text","text":""},"encoding":{}},
 {"width":118,"height":103,"title":{"text":"M2 TAMs","fontSize":8,"fontWeight":"bold","offset":10,"dx":-3},
  "encoding":{"x":{"field":"group","type":"nominal","scale":{"domain":["XRT","XRT+GLZ"],"paddingInner":0.32,"paddingOuter":0.34},"axis":{"labelOverlap":false,"title":null,"labelAngle":0,"labelFontSize":6.5,"labelFontWeight":"bold","domainWidth":1.3,"domainColor":"#222","tickColor":"#222","tickSize":2,"labelPadding":2}}},
  "layer":[
   {"data":{"values":[{"group":"XRT","mean":23.8,"lo":17.7,"hi":29.5},{"group":"XRT+GLZ","mean":22.9,"lo":19.2,"hi":26.5}]},"layer":[
    {"mark":{"type":"bar","fill":"white","stroke":"#333","strokeWidth":1.4,"width":{"band":1}},"encoding":{"y":{"field":"mean","type":"quantitative","scale":{"domain":[0,50]},"axis":{"labels":false,"values":[0,10,20,30,40,50],"title":"% of TAMs","titleFontSize":7,"titleFontWeight":"bold","domainWidth":1.3,"domainColor":"#222","tickColor":"#222","tickSize":2,"titlePadding":17}}}},
    {"mark":{"type":"rule","color":"#555"},"encoding":{"y":{"field":"lo","type":"quantitative"},"y2":{"field":"hi"}}},
    {"mark":{"type":"tick","color":"#555","size":17,"thickness":1},"encoding":{"y":{"field":"lo","type":"quantitative"}}},
    {"mark":{"type":"tick","color":"#555","size":17,"thickness":1},"encoding":{"y":{"field":"hi","type":"quantitative"}}}
   ]},
   {"data":{"values":[{"pos":0},{"pos":10},{"pos":20},{"pos":30},{"pos":40},{"pos":50}]},"mark":{"type":"text","fontSize":7,"fontWeight":"bold","align":"right","dx":-3,"color":"#222"},"encoding":{"x":{"value":0},"y":{"field":"pos","type":"quantitative"},"text":{"field":"pos"}}},
   {"data":{"values":[{"group":"XRT","v":38.4,"j":0},{"group":"XRT","v":34.2,"j":-0.12},{"group":"XRT","v":33.4,"j":0.14},{"group":"XRT","v":20.6,"j":0},{"group":"XRT","v":13.9,"j":0},{"group":"XRT","v":1.1,"j":0},{"group":"XRT+GLZ","v":41.6,"j":0},{"group":"XRT+GLZ","v":38.7,"j":0},{"group":"XRT+GLZ","v":23.5,"j":-0.12},{"group":"XRT+GLZ","v":22.9,"j":0.12},{"group":"XRT+GLZ","v":20.2,"j":0.12},{"group":"XRT+GLZ","v":19.2,"j":-0.12},{"group":"XRT+GLZ","v":16.6,"j":-0.12},{"group":"XRT+GLZ","v":14.8,"j":0.12},{"group":"XRT+GLZ","v":6.9,"j":0}]},
    "mark":{"type":"point","shape":"square","filled":true,"size":9,"color":"#000","opacity":1},
    "encoding":{"y":{"field":"v","type":"quantitative"},"xOffset":{"field":"j","type":"quantitative","scale":{"domain":[-1,1]}}}}
  ]},
 {"width":10,"height":55,"data":{"values":[{}]},"mark":{"type":"text","text":""},"encoding":{}},
 {"width":118,"height":102,"title":{"text":"M1 TAMs","fontSize":8,"fontWeight":"bold","offset":9,"dx":-4},
  "encoding":{"x":{"field":"group","type":"nominal","scale":{"domain":["XRT","XRT+GLZ"],"paddingInner":0.32,"paddingOuter":0.34},"axis":{"labelOverlap":false,"title":null,"labelAngle":0,"labelFontSize":6.5,"labelFontWeight":"bold","domainWidth":1.3,"domainColor":"#222","tickColor":"#222","tickSize":2,"labelPadding":2}}},
  "layer":[
   {"data":{"values":[{"group":"XRT","mean":12.8,"lo":10.6,"hi":14.8},{"group":"XRT+GLZ","mean":20.6,"lo":17.9,"hi":23.1}]},"layer":[
    {"mark":{"type":"bar","fill":"white","stroke":"#333","strokeWidth":1.4,"width":{"band":1}},"encoding":{"y":{"field":"mean","type":"quantitative","scale":{"domain":[0,40]},"axis":{"labels":false,"values":[0,10,20,30,40],"title":"% of TAMs","titleFontSize":7,"titleFontWeight":"bold","domainWidth":1.3,"domainColor":"#222","tickColor":"#222","tickSize":2,"titlePadding":17}}}},
    {"mark":{"type":"rule","color":"#555"},"encoding":{"y":{"field":"lo","type":"quantitative"},"y2":{"field":"hi"}}},
    {"mark":{"type":"tick","color":"#555","size":17,"thickness":1},"encoding":{"y":{"field":"lo","type":"quantitative"}}},
    {"mark":{"type":"tick","color":"#555","size":17,"thickness":1},"encoding":{"y":{"field":"hi","type":"quantitative"}}}
   ]},
   {"data":{"values":[{"pos":0},{"pos":10},{"pos":20},{"pos":30},{"pos":40}]},"mark":{"type":"text","fontSize":7,"fontWeight":"bold","align":"right","dx":-3,"color":"#222"},"encoding":{"x":{"value":0},"y":{"field":"pos","type":"quantitative"},"text":{"field":"pos"}}},
   {"data":{"values":[{"group":"XRT","v":20.3,"j":0},{"group":"XRT","v":17.5,"j":0},{"group":"XRT","v":14.5,"j":0},{"group":"XRT","v":11.5,"j":0.28},{"group":"XRT","v":11.1,"j":-0.24},{"group":"XRT","v":10.5,"j":0},{"group":"XRT","v":3.1,"j":0},{"group":"XRT+GLZ","v":32.3,"j":0},{"group":"XRT+GLZ","v":30.2,"j":0},{"group":"XRT+GLZ","v":26.9,"j":-0.12},{"group":"XRT+GLZ","v":25,"j":0.14},{"group":"XRT+GLZ","v":20.5,"j":-0.26},{"group":"XRT+GLZ","v":19.3,"j":0},{"group":"XRT+GLZ","v":19.5,"j":0.26},{"group":"XRT+GLZ","v":12,"j":0},{"group":"XRT+GLZ","v":9.5,"j":-0.12},{"group":"XRT+GLZ","v":9.7,"j":0.14}]},
    "mark":{"type":"point","shape":"square","filled":true,"size":9,"color":"#000","opacity":1},
    "encoding":{"y":{"field":"v","type":"quantitative"},"xOffset":{"field":"j","type":"quantitative","scale":{"domain":[-1,1]}}}},
   {"data":{"values":[{"from":"XRT","to":"XRT+GLZ","at":36.7}]},"layer":[
    {"mark":{"type":"rule","color":"#222","strokeWidth":1.2},"encoding":{"x":{"field":"from","type":"nominal"},"x2":{"field":"to"},"y":{"field":"at","type":"quantitative"}}},
    {"mark":{"type":"text","text":"*","fontSize":7,"fontWeight":"bold","dx":25,"dy":-1,"color":"#222"},"encoding":{"x":{"field":"from","type":"nominal"},"y":{"field":"at","type":"quantitative"}}}
   ]}
  ]}
]}
]
}
